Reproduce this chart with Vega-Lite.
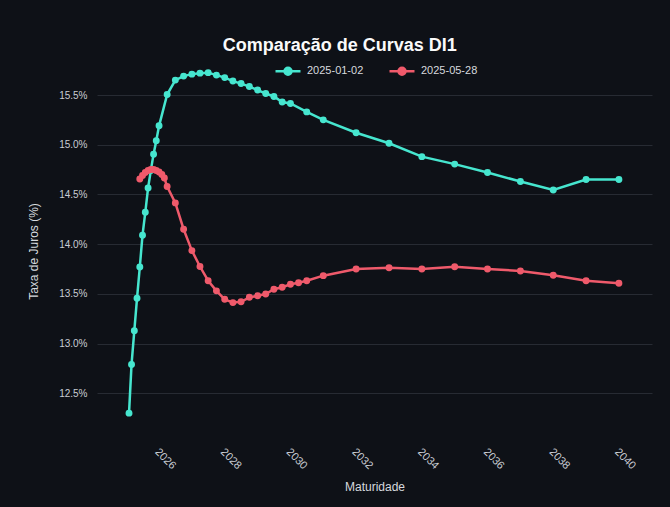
{
  "$schema": "https://vega.github.io/schema/vega-lite/v6.json",
  "width": 555,
  "height": 378,
  "autosize": {"type": "none"},
  "padding": {"left": 97, "top": 62, "right": 18, "bottom": 67},
  "background": "#0e1117",
  "title": {
    "text": "Comparação de Curvas DI1",
    "anchor": "middle",
    "frame": "bounds",
    "font": "Liberation Sans",
    "fontSize": 18,
    "fontWeight": "bold",
    "color": "#fafafa",
    "offset": 2
  },
  "data": {
    "values": [
      {"vencimento": "2025-02-01", "taxa": 12.30, "curva": "2025-01-02"},
      {"vencimento": "2025-03-01", "taxa": 12.79, "curva": "2025-01-02"},
      {"vencimento": "2025-04-01", "taxa": 13.13, "curva": "2025-01-02"},
      {"vencimento": "2025-05-01", "taxa": 13.455, "curva": "2025-01-02"},
      {"vencimento": "2025-06-01", "taxa": 13.77, "curva": "2025-01-02"},
      {"vencimento": "2025-07-01", "taxa": 14.09, "curva": "2025-01-02"},
      {"vencimento": "2025-08-01", "taxa": 14.32, "curva": "2025-01-02"},
      {"vencimento": "2025-09-01", "taxa": 14.565, "curva": "2025-01-02"},
      {"vencimento": "2025-10-01", "taxa": 14.74, "curva": "2025-01-02"},
      {"vencimento": "2025-11-01", "taxa": 14.905, "curva": "2025-01-02"},
      {"vencimento": "2025-12-01", "taxa": 15.04, "curva": "2025-01-02"},
      {"vencimento": "2026-01-01", "taxa": 15.19, "curva": "2025-01-02"},
      {"vencimento": "2026-04-01", "taxa": 15.505, "curva": "2025-01-02"},
      {"vencimento": "2026-07-01", "taxa": 15.65, "curva": "2025-01-02"},
      {"vencimento": "2026-10-01", "taxa": 15.69, "curva": "2025-01-02"},
      {"vencimento": "2027-01-01", "taxa": 15.71, "curva": "2025-01-02"},
      {"vencimento": "2027-04-01", "taxa": 15.72, "curva": "2025-01-02"},
      {"vencimento": "2027-07-01", "taxa": 15.725, "curva": "2025-01-02"},
      {"vencimento": "2027-10-01", "taxa": 15.70, "curva": "2025-01-02"},
      {"vencimento": "2028-01-01", "taxa": 15.675, "curva": "2025-01-02"},
      {"vencimento": "2028-04-01", "taxa": 15.64, "curva": "2025-01-02"},
      {"vencimento": "2028-07-01", "taxa": 15.615, "curva": "2025-01-02"},
      {"vencimento": "2028-10-01", "taxa": 15.585, "curva": "2025-01-02"},
      {"vencimento": "2029-01-01", "taxa": 15.55, "curva": "2025-01-02"},
      {"vencimento": "2029-04-01", "taxa": 15.515, "curva": "2025-01-02"},
      {"vencimento": "2029-07-01", "taxa": 15.485, "curva": "2025-01-02"},
      {"vencimento": "2029-10-01", "taxa": 15.43, "curva": "2025-01-02"},
      {"vencimento": "2030-01-01", "taxa": 15.415, "curva": "2025-01-02"},
      {"vencimento": "2030-07-01", "taxa": 15.33, "curva": "2025-01-02"},
      {"vencimento": "2031-01-01", "taxa": 15.25, "curva": "2025-01-02"},
      {"vencimento": "2032-01-01", "taxa": 15.12, "curva": "2025-01-02"},
      {"vencimento": "2033-01-01", "taxa": 15.015, "curva": "2025-01-02"},
      {"vencimento": "2034-01-01", "taxa": 14.88, "curva": "2025-01-02"},
      {"vencimento": "2035-01-01", "taxa": 14.805, "curva": "2025-01-02"},
      {"vencimento": "2036-01-01", "taxa": 14.72, "curva": "2025-01-02"},
      {"vencimento": "2037-01-01", "taxa": 14.63, "curva": "2025-01-02"},
      {"vencimento": "2038-01-01", "taxa": 14.545, "curva": "2025-01-02"},
      {"vencimento": "2039-01-01", "taxa": 14.65, "curva": "2025-01-02"},
      {"vencimento": "2040-01-01", "taxa": 14.65, "curva": "2025-01-02"},
      {"vencimento": "2025-06-01", "taxa": 14.655, "curva": "2025-05-28"},
      {"vencimento": "2025-07-01", "taxa": 14.69, "curva": "2025-05-28"},
      {"vencimento": "2025-08-01", "taxa": 14.72, "curva": "2025-05-28"},
      {"vencimento": "2025-09-01", "taxa": 14.74, "curva": "2025-05-28"},
      {"vencimento": "2025-10-01", "taxa": 14.75, "curva": "2025-05-28"},
      {"vencimento": "2025-11-01", "taxa": 14.75, "curva": "2025-05-28"},
      {"vencimento": "2025-12-01", "taxa": 14.74, "curva": "2025-05-28"},
      {"vencimento": "2026-01-01", "taxa": 14.725, "curva": "2025-05-28"},
      {"vencimento": "2026-02-01", "taxa": 14.70, "curva": "2025-05-28"},
      {"vencimento": "2026-03-01", "taxa": 14.665, "curva": "2025-05-28"},
      {"vencimento": "2026-04-01", "taxa": 14.58, "curva": "2025-05-28"},
      {"vencimento": "2026-07-01", "taxa": 14.415, "curva": "2025-05-28"},
      {"vencimento": "2026-10-01", "taxa": 14.15, "curva": "2025-05-28"},
      {"vencimento": "2027-01-01", "taxa": 13.935, "curva": "2025-05-28"},
      {"vencimento": "2027-04-01", "taxa": 13.775, "curva": "2025-05-28"},
      {"vencimento": "2027-07-01", "taxa": 13.632, "curva": "2025-05-28"},
      {"vencimento": "2027-10-01", "taxa": 13.53, "curva": "2025-05-28"},
      {"vencimento": "2028-01-01", "taxa": 13.445, "curva": "2025-05-28"},
      {"vencimento": "2028-04-01", "taxa": 13.412, "curva": "2025-05-28"},
      {"vencimento": "2028-07-01", "taxa": 13.42, "curva": "2025-05-28"},
      {"vencimento": "2028-10-01", "taxa": 13.465, "curva": "2025-05-28"},
      {"vencimento": "2029-01-01", "taxa": 13.48, "curva": "2025-05-28"},
      {"vencimento": "2029-04-01", "taxa": 13.498, "curva": "2025-05-28"},
      {"vencimento": "2029-07-01", "taxa": 13.546, "curva": "2025-05-28"},
      {"vencimento": "2029-10-01", "taxa": 13.566, "curva": "2025-05-28"},
      {"vencimento": "2030-01-01", "taxa": 13.596, "curva": "2025-05-28"},
      {"vencimento": "2030-04-01", "taxa": 13.612, "curva": "2025-05-28"},
      {"vencimento": "2030-07-01", "taxa": 13.632, "curva": "2025-05-28"},
      {"vencimento": "2031-01-01", "taxa": 13.683, "curva": "2025-05-28"},
      {"vencimento": "2032-01-01", "taxa": 13.75, "curva": "2025-05-28"},
      {"vencimento": "2033-01-01", "taxa": 13.763, "curva": "2025-05-28"},
      {"vencimento": "2034-01-01", "taxa": 13.75, "curva": "2025-05-28"},
      {"vencimento": "2035-01-01", "taxa": 13.773, "curva": "2025-05-28"},
      {"vencimento": "2036-01-01", "taxa": 13.75, "curva": "2025-05-28"},
      {"vencimento": "2037-01-01", "taxa": 13.73, "curva": "2025-05-28"},
      {"vencimento": "2038-01-01", "taxa": 13.687, "curva": "2025-05-28"},
      {"vencimento": "2039-01-01", "taxa": 13.632, "curva": "2025-05-28"},
      {"vencimento": "2040-01-01", "taxa": 13.606, "curva": "2025-05-28"}
    ]
  },
  "mark": {
    "type": "line",
    "strokeWidth": 2.5,
    "point": {"filled": true, "size": 48}
  },
  "encoding": {
    "x": {
      "field": "vencimento",
      "type": "temporal",
      "title": "Maturidade",
      "scale": {
        "type": "utc",
        "domain": [
          {"year": 2024, "month": 2, "date": 11, "utc": true},
          {"year": 2041, "month": 1, "date": 3, "utc": true}
        ],
        "nice": false
      },
      "axis": {
        "tickCount": {"interval": "year", "step": 2},
        "format": "%Y",
        "labelAngle": 45,
        "labelAlign": "left",
        "labelBaseline": "middle",
        "labelPadding": 10,
        "labelFont": "Liberation Sans",
        "labelFontSize": 11,
        "labelColor": "#c9cdd4",
        "labelOffset": -3,
        "grid": false,
        "domain": false,
        "ticks": false,
        "titleFont": "Liberation Sans",
        "titleFontSize": 12,
        "titleFontWeight": "normal",
        "titleColor": "#d6d9de",
        "titlePadding": 11
      }
    },
    "y": {
      "field": "taxa",
      "type": "quantitative",
      "title": "Taxa de Juros (%)",
      "scale": {"domain": [12.03, 15.832], "nice": false, "zero": false},
      "axis": {
        "values": [12.5, 13.0, 13.5, 14.0, 14.5, 15.0, 15.5],
        "labelExpr": "format(datum.value, '.1f') + '%'",
        "labelFont": "Liberation Sans",
        "labelFontSize": 10,
        "labelColor": "#c9cdd4",
        "labelPadding": 10,
        "grid": true,
        "gridColor": "#272b33",
        "gridWidth": 1,
        "domain": false,
        "ticks": false,
        "titleFont": "Liberation Sans",
        "titleFontSize": 12,
        "titleFontWeight": "normal",
        "titleColor": "#d6d9de",
        "titlePadding": 18
      }
    },
    "color": {
      "field": "curva",
      "type": "nominal",
      "scale": {"domain": ["2025-01-02", "2025-05-28"], "range": ["#46e6cf", "#ef5a6b"]},
      "legend": {
        "title": null,
        "orient": "none",
        "direction": "horizontal",
        "legendX": 177,
        "legendY": -5,
        "symbolType": "M-1,0L1,0M-0.28,0A0.28,0.28,0,1,1,0.28,0A0.28,0.28,0,1,1,-0.28,0Z",
        "symbolSize": 625,
        "symbolStrokeWidth": 2.5,
        "labelFont": "Liberation Sans",
        "labelFontSize": 11,
        "labelColor": "#d6d9de",
        "labelOffset": 5,
        "columnPadding": 20,
        "encode": {
          "symbols": {
            "update": {
              "fill": {"scale": "color", "field": "value"},
              "stroke": {"scale": "color", "field": "value"},
              "opacity": {"value": 1}
            }
          }
        }
      }
    }
  },
  "config": {"view": {"stroke": null}}
}
